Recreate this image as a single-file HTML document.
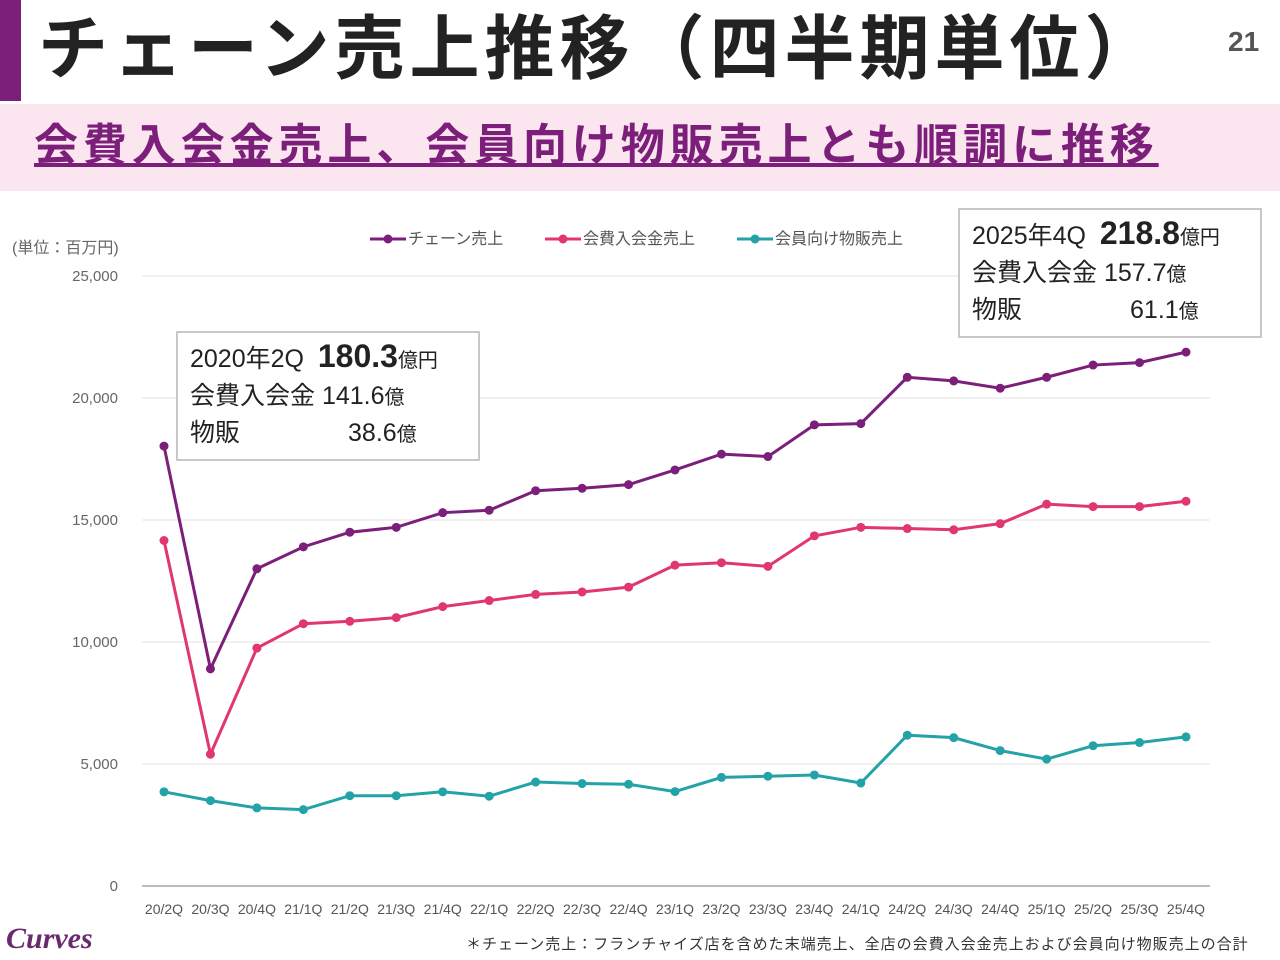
<!DOCTYPE html>
<html><head><meta charset="utf-8"><style>
body{margin:0;width:1280px;height:960px;background:#fff;font-family:"Liberation Sans","Noto Sans CJK JP",sans-serif;position:relative;overflow:hidden}
.abs{position:absolute}
.box{position:absolute;background:#fff;border:2px solid #c8c8c8;color:#222;font-size:25px;line-height:35px;padding:6px 12px}
</style></head><body>
<div class="abs" style="left:0;top:0;width:21px;height:101px;background:#7b1f7a"></div>
<div class="abs" style="left:38px;top:2px;font-size:70px;letter-spacing:5px;font-weight:bold;color:#222;white-space:nowrap;line-height:94px">チェーン売上推移（四半期単位）</div>
<div class="abs" style="left:1228px;top:26px;font-size:28px;font-weight:bold;color:#555">21</div>
<div class="abs" style="left:0;top:104px;width:1280px;height:87px;background:#fbe5ef"></div>
<div class="abs" style="left:34px;top:118px;font-size:44px;letter-spacing:4.9px;font-weight:bold;color:#7b1f7a;text-decoration:underline;white-space:nowrap;line-height:56px">会費入会金売上、会員向け物販売上とも順調に推移</div>
<div class="abs" style="left:12px;top:234px;font-size:16px;color:#666">(単位：百万円)</div>
<svg class="abs" style="left:0;top:0" width="1280" height="960" id="chart"></svg>
<div class="box" style="left:176px;top:331px;width:276px">2020年2Q&nbsp; <b style="font-size:32px">180.3</b><span style="font-size:20px">億円</span><br>会費入会金 141.6<span style="font-size:20px">億</span><br>物販<span style="display:inline-block;width:108px"></span>38.6<span style="font-size:20px">億</span></div>
<div class="box" style="left:958px;top:208px;width:276px">2025年4Q&nbsp; <b style="font-size:32px">218.8</b><span style="font-size:20px">億円</span><br>会費入会金 157.7<span style="font-size:20px">億</span><br>物販<span style="display:inline-block;width:108px"></span>61.1<span style="font-size:20px">億</span></div>
<div class="abs" style="left:6px;top:922px;font-family:'Liberation Serif',serif;font-style:italic;font-weight:bold;font-size:30px;color:#6a2a6e">Curves</div>
<div class="abs" style="left:466px;top:933px;font-size:15px;letter-spacing:1px;color:#333;white-space:nowrap">＊チェーン売上：フランチャイズ店を含めた末端売上、全店の会費入会金売上および会員向け物販売上の合計</div>
<script>
const categories=["20/2Q","20/3Q","20/4Q","21/1Q","21/2Q","21/3Q","21/4Q","22/1Q","22/2Q","22/3Q","22/4Q","23/1Q","23/2Q","23/3Q","23/4Q","24/1Q","24/2Q","24/3Q","24/4Q","25/1Q","25/2Q","25/3Q","25/4Q"];
const chainSales=[18030,8900,13000,13900,14500,14700,15300,15400,16200,16300,16450,17050,17700,17600,18900,18950,20850,20700,20400,20850,21350,21450,21880];
const memberFees=[14160,5400,9750,10750,10850,11000,11450,11700,11950,12050,12250,13150,13250,13100,14350,14700,14650,14600,14850,15650,15550,15550,15770];
const goodsSales=[3860,3500,3200,3130,3700,3700,3860,3680,4260,4200,4170,3870,4450,4500,4550,4220,6180,6080,5550,5200,5750,5880,6110];
const yTicks=[0,5000,10000,15000,20000,25000];
const seriesNames=["チェーン売上","会費入会金売上","会員向け物販売上"];
const seriesColors=["#7b1f7a","#e0376f","#23a3a8"];
const svg=document.getElementById('chart');
const NS="http://www.w3.org/2000/svg";
const x=i=>164+i*(1186-164)/(categories.length-1);
const y=v=>886-v*(886-276)/25000;
function mk(t,a){const e=document.createElementNS(NS,t);for(const k in a)e.setAttribute(k,a[k]);svg.appendChild(e);return e;}
yTicks.forEach(t=>{
 const l=mk('line',{x1:142,x2:1210,y1:y(t),y2:y(t),stroke:t?'#e2e2e2':'#bbb','stroke-width':t?1:2});
 
 
 const tx=mk('text',{x:118,y:y(t)+5,'text-anchor':'end','font-size':15,fill:'#666'});tx.textContent=t.toLocaleString('en-US');
 
 
});
categories.forEach((c,i)=>{
 const tx=mk('text',{x:x(i),y:914,'text-anchor':'middle','font-size':14,fill:'#555'});tx.textContent=c;
 
 
});
[chainSales,memberFees,goodsSales].forEach((s,k)=>{
 const p=mk('polyline',{points:s.map((v,i)=>x(i)+','+y(v)).join(' '),fill:'none',stroke:seriesColors[k],'stroke-width':3});
 
 
 s.forEach((v,i)=>{const c=mk('circle',{cx:x(i),cy:y(v),r:4.5,fill:seriesColors[k]});
 
 });
});
const lx=[370,545,737];
seriesNames.forEach((n,k)=>{
 const l=mk('line',{x1:lx[k],x2:lx[k]+36,y1:239,y2:239,stroke:seriesColors[k],'stroke-width':3});
 
 
 const c=mk('circle',{cx:lx[k]+18,cy:239,r:4.5,fill:seriesColors[k]});
 
 
 const t=mk('text',{x:lx[k]+38,y:244,'font-size':16,fill:'#555'});t.textContent=n;
 
 
});
</script>
</body></html>
